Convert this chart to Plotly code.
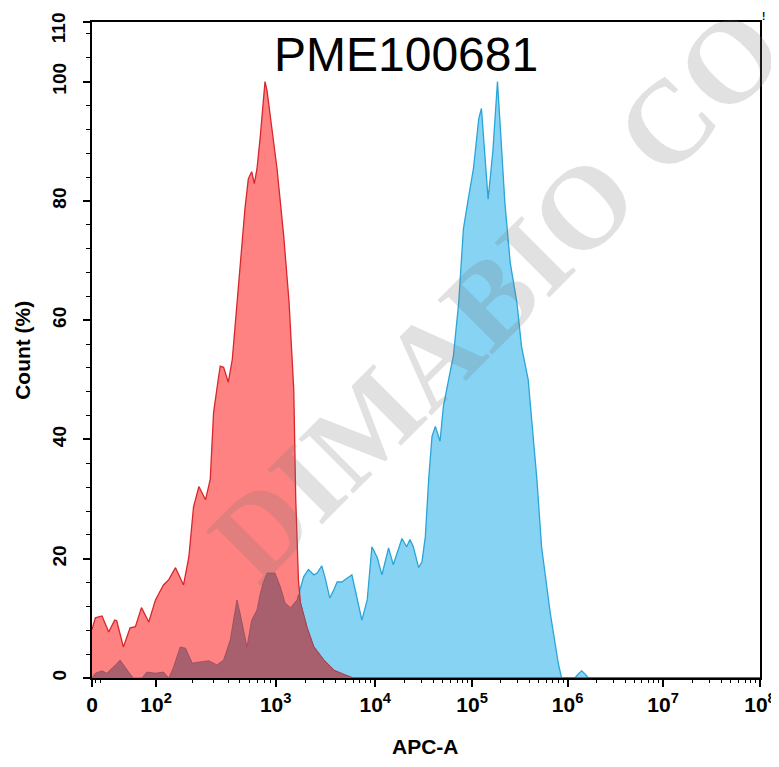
import numpy as np
import plotly.graph_objects as go

# ---- data (x in display channels 0..1000 of the biexponential APC-A axis, y in % of max) ----
red_ch = [0, 5, 15, 25, 34, 37, 47, 57, 65, 74, 85, 95, 107, 115, 125, 137, 145, 152, 160, 170,
          177, 182, 189, 192, 197, 204, 210, 217, 222, 229, 234, 239, 243, 247, 252, 256, 259,
          262, 267, 277, 287, 295, 302, 305, 309, 312, 322, 332, 347, 362, 379, 391, 1000]
red_y = [8.1, 10.1, 10.4, 7.7, 9.7, 9.6, 5.2, 8.4, 8.6, 11.8, 9.4, 13.1, 15.6, 16.5, 18.5, 15.6,
         20.3, 28.7, 32.1, 29.9, 33.3, 44.5, 50.1, 52.3, 52.1, 49.6, 53.4, 63.0, 68.6, 78.7, 83.7,
         84.9, 82.9, 85.4, 90.9, 96.6, 100.0, 98.5, 93.8, 85.4, 74.1, 63.0, 48.4, 30.0, 16.5, 12.6,
         8.4, 5.2, 3.0, 1.3, 0.5, 0.0, 0.0]

blue_ch = [0, 5, 15, 22, 32, 42, 52, 62, 75, 82, 95, 107, 115, 122, 132, 140, 150, 162, 175, 187,
           197, 207, 217, 224, 232, 239, 247, 254, 262, 274, 282, 289, 297, 307, 312, 317, 324, 332,
           337, 344, 349, 356, 362, 367, 374, 382, 389, 394, 404, 412, 419, 427, 434, 444, 451, 464,
           471, 476, 481, 489, 494, 499, 504, 509, 514, 521, 526, 534, 541, 549, 556, 564, 571, 579,
           583, 586, 593, 600, 607, 612, 618, 626, 636, 643, 653, 666, 673, 686, 698, 703, 723, 728,
           733, 738, 743, 1000]
blue_y = [0.0, 0.8, 1.2, 0.8, 1.8, 3.0, 1.3, 0.0, 0.0, 1.0, 0.8, 1.0, 0.0, 1.8, 5.2, 5.0, 2.5, 2.7,
          2.9, 2.2, 3.0, 6.4, 13.1, 9.7, 5.2, 9.7, 11.4, 15.3, 17.6, 17.6, 15.3, 12.6, 11.8, 13.1,
          15.3, 17.0, 18.2, 17.3, 17.6, 18.8, 16.8, 13.4, 14.8, 16.1, 16.1, 16.8, 17.3, 14.8, 9.7,
          13.1, 22.0, 20.2, 17.3, 21.8, 19.0, 23.4, 22.0, 23.2, 22.0, 18.5, 19.5, 23.7, 33.3, 40.5,
          42.2, 39.7, 45.5, 50.1, 54.0, 63.0, 75.3, 80.8, 85.4, 93.8, 95.5, 90.9, 80.3, 88.2, 100.0,
          90.9, 79.8, 69.7, 63.0, 55.6, 50.0, 33.3, 22.0, 10.9, 2.5, 0.0, 0.0, 0.7, 1.2, 0.7, 0.0, 0.0]

# axis ticks (channel position of each decade)
x_tick_ch = [0, 96, 275, 424, 569, 712, 855, 1000]
x_tick_text = ["0", "10<sup>2</sup>", "10<sup>3</sup>", "10<sup>4</sup>", "10<sup>5</sup>",
               "10<sup>6</sup>", "10<sup>7</sup>", "10<sup>8</sup>"]
x_low_minor_ch = [5, 12]
y_tick_vals = [0, 20, 40, 60, 80, 100, 110]
y_tick_text = ["0", "20", "40", "60", "80", "100", ""]
y_top_label = "110"

title_text = "PME100681"
x_title = "APC-A"
y_title = "Count (%)"
watermark = "DIMABIO CO"

# ---- derived ----
decades = x_tick_ch[1:]
minor_x = list(x_low_minor_ch)
for i in range(len(decades) - 1):
    for k in range(2, 10):
        minor_x.append(decades[i] + np.log10(k) * (decades[i + 1] - decades[i]))
minor_y = [v for v in range(0, 110, 4) if v not in y_tick_vals]

grid = np.union1d(red_ch, blue_ch)
overlap = np.minimum(np.interp(grid, red_ch, red_y), np.interp(grid, blue_ch, blue_y))

RED_FILL = "#FF8282"
RED_LINE = "#D8262A"
BLUE_FILL = "#86D3F4"
BLUE_LINE = "#2AA5D8"
MAUVE_FILL = "#A8606F"
MAUVE_LINE = "#8E4C5C"

fig = go.Figure()
fig.add_trace(go.Scatter(x=blue_ch, y=blue_y, mode="lines", fill="tozeroy",
                         fillcolor=BLUE_FILL, line=dict(color=BLUE_LINE, width=1.3),
                         hoverinfo="skip", showlegend=False))
fig.add_trace(go.Scatter(x=red_ch, y=red_y, mode="lines", fill="tozeroy",
                         fillcolor=RED_FILL, line=dict(color=RED_LINE, width=1.3),
                         hoverinfo="skip", showlegend=False))
fig.add_trace(go.Scatter(x=grid, y=overlap, mode="lines", fill="tozeroy",
                         fillcolor=MAUVE_FILL, line=dict(color=MAUVE_LINE, width=0.8),
                         hoverinfo="skip", showlegend=False))

FONT = "Liberation Sans, Arial, sans-serif"
TICKFONT_Y = dict(family=FONT, size=19, color="black", weight="bold")

fig.update_layout(
    width=771, height=759,
    margin=dict(l=84, r=19, t=14, b=89, autoexpand=False),
    paper_bgcolor="white", plot_bgcolor="white",
    xaxis=dict(range=[0, 1000], tickmode="array", tickvals=x_tick_ch, ticktext=x_tick_text,
               automargin=False, ticklabeloverflow="allow",
               ticks="outside", ticklen=7, tickwidth=1.5, tickcolor="black",
               showline=True, linecolor="black", linewidth=1.6, mirror=True,
               showgrid=False, zeroline=False,
               tickfont=dict(family=FONT, size=21, color="black", weight="bold"),
               minor=dict(tickmode="array", tickvals=minor_x, ticks="outside", ticklen=3,
                          tickwidth=1, tickcolor="black", showgrid=False)),
    yaxis=dict(range=[0, 110], tickmode="array", tickvals=y_tick_vals, ticktext=y_tick_text,
               automargin=False, ticklabeloverflow="allow",
               ticks="outside", ticklen=7, tickwidth=1.5, tickcolor="black",
               showline=True, linecolor="black", linewidth=1.6, mirror=True,
               showgrid=False, zeroline=False, tickangle=-90, ticklabelstandoff=10,
               tickfont=TICKFONT_Y,
               minor=dict(tickmode="array", tickvals=minor_y, ticks="outside", ticklen=4,
                          tickwidth=1, tickcolor="black", showgrid=False)),
    annotations=[
        dict(text=y_top_label, xref="paper", yref="paper", x=-0.049, y=0.991,
             xanchor="center", yanchor="middle", showarrow=False, textangle=-90,
             font=TICKFONT_Y),
        dict(text=title_text, xref="paper", yref="paper", x=0.47, y=0.951,
             xanchor="center", yanchor="middle", showarrow=False,
             font=dict(family=FONT, size=48, color="black")),
        dict(text=x_title, xref="paper", yref="paper", x=0.499, y=-0.104,
             xanchor="center", yanchor="middle", showarrow=False,
             font=dict(family=FONT, size=21, color="black", weight="bold")),
        dict(text=y_title, xref="paper", yref="paper", x=-0.105, y=0.5,
             xanchor="center", yanchor="middle", showarrow=False, textangle=-90,
             font=dict(family=FONT, size=21, color="black", weight="bold")),
        dict(text=watermark, xref="paper", yref="paper", x=0.605, y=0.585,
             xanchor="center", yanchor="middle", showarrow=False, textangle=-45,
             font=dict(family="Liberation Serif, Times New Roman, serif", size=118,
                       color="rgba(120,120,120,0.22)", weight="bold")),
        dict(text="!", xref="paper", yref="paper", x=1.005, y=1.009,
             xanchor="center", yanchor="middle", showarrow=False,
             font=dict(family=FONT, size=10, color="black", weight="bold")),
    ],
)

fig.write_html("out.html")
